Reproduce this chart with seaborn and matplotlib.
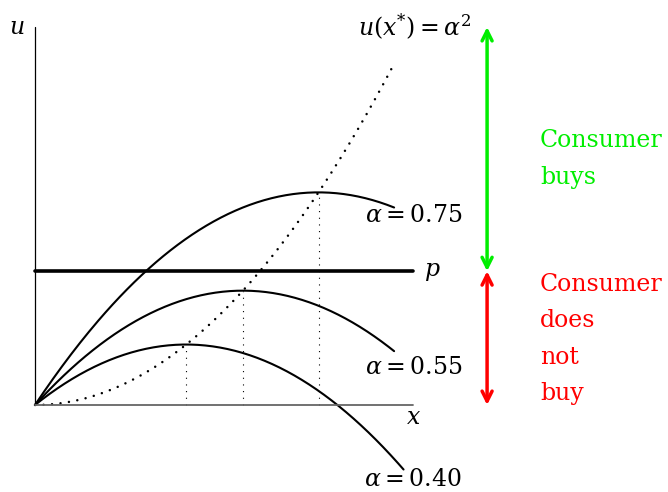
import numpy as np
import pandas as pd
import seaborn as sns
import matplotlib.pyplot as plt

# valores
alphas = [0.40, 0.55, 0.75]
x_end = [0.975, 0.95, 0.95]
alpha_labels = [r'$\alpha = 0.40$', r'$\alpha = 0.55$', r'$\alpha = 0.75$']
label_u = [-0.198, 0.10, 0.50]
price = 0.354

sns.set_theme(style="white")
plt.rcParams['font.family'] = ['DejaVu Serif']
plt.rcParams['mathtext.fontset'] = 'dejavuserif'
plt.rcParams['text.color'] = 'black'

fig = plt.figure(figsize=(6.68, 4.92), dpi=100)
ax = fig.add_axes([0, 0, 1, 1])
ax.set_xlim(-35 / 378, 633 / 378)
ax.set_ylim(-87 / 378, 405 / 378)
ax.axis('off')

# curvas u = 2*alpha*x - x^2
linhas = []
for a, xe in zip(alphas, x_end):
    xs = np.linspace(0, xe, 200)
    linhas.append(pd.DataFrame({'x': xs, 'u': 2 * a * xs - xs ** 2, 'alpha': a}))
df = pd.concat(linhas)
sns.lineplot(data=df, x='x', y='u', units='alpha', estimator=None,
             color='black', lw=1.5, ax=ax, sort=False)

# u(x*) = alpha^2
xs = np.linspace(0, 0.95, 200)
ax.plot(xs, xs ** 2, color='black', lw=1.8, linestyle=(0, (0.01, 3.4)),
        dash_capstyle='round', solid_capstyle='round')

for a in alphas:
    ax.plot([a, a], [0, a ** 2], color='black', lw=0.8, linestyle=(0, (1, 5)))

# eixos
ax.plot([0, 0], [0, 1.0], color='black', lw=0.9)
ax.plot([0, 1.0], [0, 0], color='#666666', lw=1.3)
ax.plot([0, 1.0], [price, price], color='black', lw=2.6)

fs = 17
ax.text(-0.048, 1.0, r'$u$', fontsize=fs, ha='center', va='center')
ax.text(1.0, -0.034, r'$x$', fontsize=fs, ha='center', va='center')
ax.text(1.05, price, r'$p$', fontsize=fs, ha='center', va='center')
ax.text(1.156, 1.0, r'$u(x^{*}) = \alpha^{2}$', fontsize=fs, ha='right', va='center')
for lab, yu in zip(alpha_labels, label_u):
    ax.text(1.13, yu, lab, fontsize=fs, ha='right', va='center')

# setas
ax.annotate('', xy=(1.196, 1.0), xytext=(1.196, price),
            arrowprops=dict(arrowstyle='<->', color='#00ee00', lw=2.5, mutation_scale=18,
                            shrinkA=0, shrinkB=0))
ax.annotate('', xy=(1.196, price), xytext=(1.196, 0),
            arrowprops=dict(arrowstyle='<->', color='#ff0000', lw=2.5, mutation_scale=18,
                            shrinkA=0, shrinkB=0))

ax.text(1.336, (405 - 159) / 378, 'Consumer\nbuys', color='#00ee00', fontsize=fs,
        ha='left', va='center', linespacing=1.75)
ax.text(1.336, (405 - 339) / 378, 'Consumer\ndoes\nnot\nbuy', color='#ff0000', fontsize=fs,
        ha='left', va='center', linespacing=1.75)

plt.savefig('out.png', dpi=100)
